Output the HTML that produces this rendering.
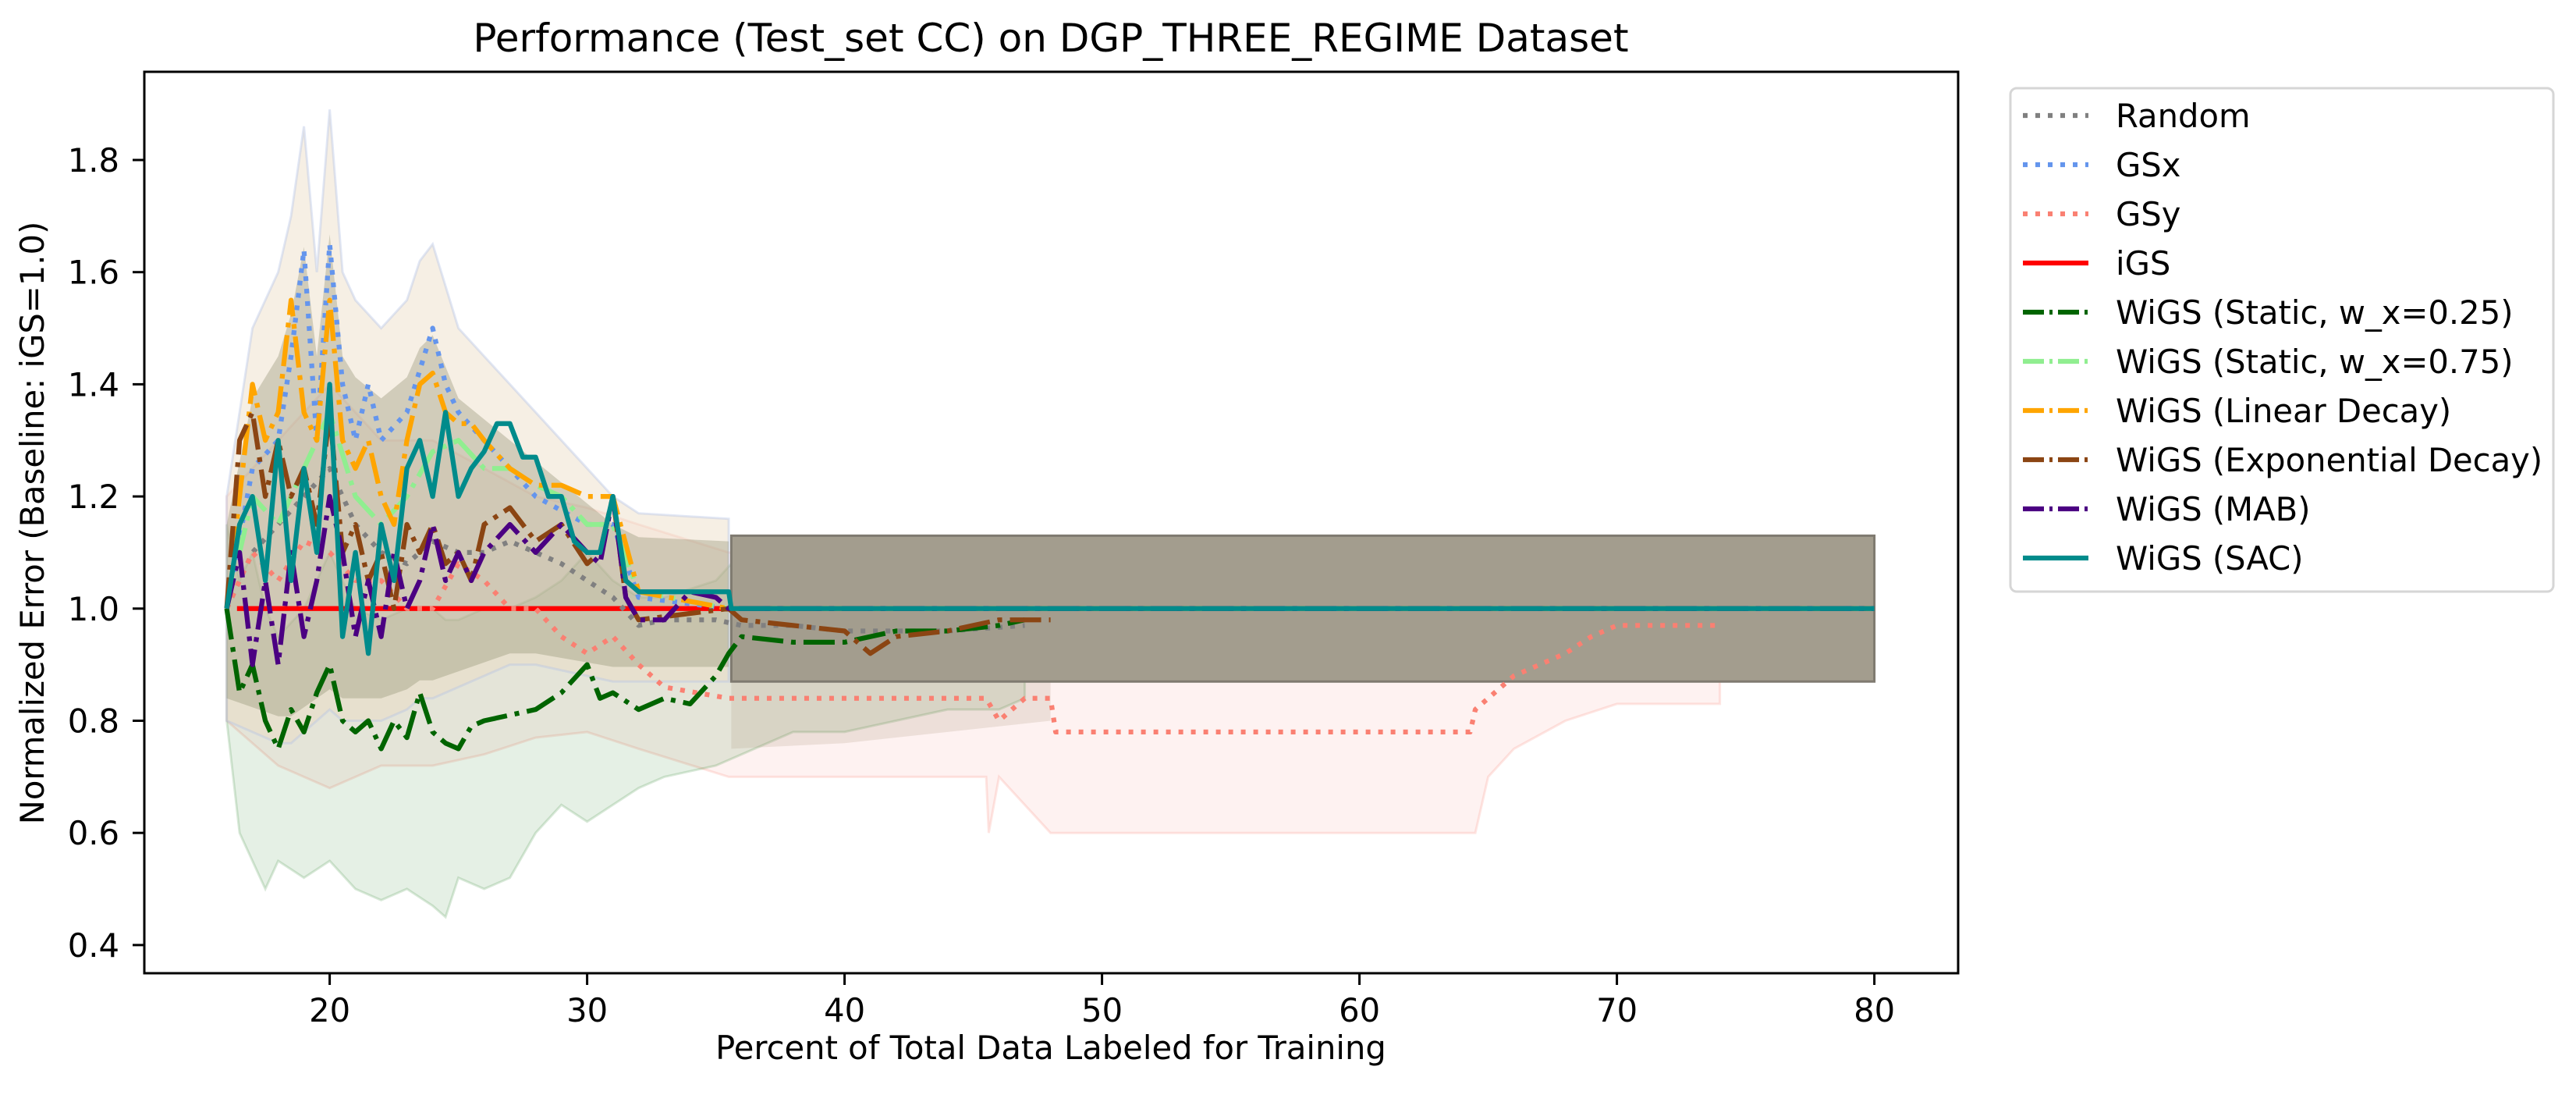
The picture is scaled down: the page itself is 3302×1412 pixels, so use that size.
<!DOCTYPE html>
<html><head><meta charset="utf-8"><style>
html,body{margin:0;padding:0;background:#fff;}
svg text{font-family:"DejaVu Sans","Liberation Sans",sans-serif;}
</style></head><body>
<svg id="chart" width="3302" height="1407" viewBox="0 0 3302 1407" xmlns="http://www.w3.org/2000/svg">
<rect x="0" y="0" width="3302" height="1407" fill="#fff"/>
<g id="bands"></g>
<g id="lines"></g>
<rect x="185" y="92" width="2325" height="1155" fill="none" stroke="#000" stroke-width="3"/>
<g id="xticks"></g>
<g id="yticks"></g>
<text x="1347" y="66" font-size="50" text-anchor="middle">Performance (Test_set CC) on DGP_THREE_REGIME Dataset</text>
<text x="1347" y="1357" font-size="41.7" text-anchor="middle">Percent of Total Data Labeled for Training</text>
<text transform="translate(56,670) rotate(-90)" font-size="41.7" text-anchor="middle">Normalized Error (Baseline: iGS=1.0)</text>
<g id="legend">
<rect x="2577" y="113" width="696" height="645" rx="8" fill="#fff" fill-opacity="0.8" stroke="#d6d6d6" stroke-width="3"/>
</g>
</svg>
<script>
// ---- data ----
const xTicks = [20, 30, 40, 50, 60, 70, 80];
const yTicks = [0.4, 0.6, 0.8, 1.0, 1.2, 1.4, 1.6, 1.8];

const igsX = [16.4, 80];
const igsY = [1.0, 1.0];

const randomX = [16, 17, 18, 19, 20, 21, 22, 23, 24, 25, 26, 27, 28, 29, 30, 31, 32, 33, 35, 36, 38, 40, 42, 44, 47];
const randomY = [1.0, 1.1, 1.15, 1.2, 1.25, 1.15, 1.1, 1.08, 1.12, 1.1, 1.1, 1.12, 1.1, 1.08, 1.05, 1.02, 0.97, 0.98, 0.98, 0.97, 0.97, 0.96, 0.96, 0.96, 0.97];

const gsxX = [16, 17, 18, 18.5, 19, 19.5, 20, 20.5, 21, 21.5, 22, 23, 24, 24.5, 25, 26, 27, 28, 30, 31, 32, 35.5, 80];
const gsxY = [1.0, 1.25, 1.3, 1.45, 1.64, 1.3, 1.65, 1.4, 1.3, 1.4, 1.3, 1.35, 1.5, 1.4, 1.35, 1.3, 1.25, 1.2, 1.15, 1.15, 1.02, 1.0, 1.0];

const gsyX = [16, 17, 18, 19, 20, 21, 22, 23, 24, 25, 26, 27, 28, 29, 30, 31, 32, 33, 35.5, 45.5, 46, 47, 48, 48.2, 64.3, 64.5, 65.5, 66, 67, 68, 69, 70, 74];
const gsyY = [1.0, 1.1, 1.05, 1.12, 1.1, 1.05, 1.05, 1.0, 1.0, 1.08, 1.05, 1.0, 1.0, 0.95, 0.92, 0.95, 0.9, 0.86, 0.84, 0.84, 0.8, 0.84, 0.84, 0.78, 0.78, 0.82, 0.86, 0.88, 0.9, 0.92, 0.95, 0.97, 0.97];

const st25X = [16, 16.5, 17, 17.5, 18, 18.5, 19, 19.5, 20, 20.5, 21, 21.5, 22, 22.5, 23, 23.5, 24, 24.5, 25, 25.5, 26, 27, 28, 29, 30, 30.5, 31, 32, 33, 34, 35, 35.5, 36, 38, 40, 42, 44, 46, 47];
const st25Y = [1.0, 0.85, 0.9, 0.8, 0.75, 0.82, 0.78, 0.85, 0.9, 0.8, 0.78, 0.8, 0.75, 0.8, 0.77, 0.85, 0.78, 0.76, 0.75, 0.79, 0.8, 0.81, 0.82, 0.85, 0.9, 0.84, 0.85, 0.82, 0.84, 0.83, 0.88, 0.92, 0.95, 0.94, 0.94, 0.96, 0.96, 0.97, 0.98];

const st75X = [16, 17, 18, 19, 20, 21, 22, 23, 24, 25, 26, 27, 28, 29, 30, 31, 32, 35.5, 80];
const st75Y = [1.0, 1.2, 1.15, 1.25, 1.35, 1.2, 1.15, 1.2, 1.28, 1.3, 1.25, 1.25, 1.22, 1.2, 1.15, 1.15, 1.03, 1.0, 1.0];

const linX = [16, 16.5, 17, 17.5, 18, 18.5, 19, 19.5, 20, 20.5, 21, 21.5, 22, 22.5, 23, 23.5, 24, 24.5, 25, 25.5, 26, 27, 28, 29, 30, 31, 32, 35.5, 80];
const linY = [1.0, 1.2, 1.4, 1.3, 1.35, 1.55, 1.35, 1.3, 1.55, 1.3, 1.25, 1.3, 1.2, 1.15, 1.3, 1.4, 1.42, 1.35, 1.33, 1.33, 1.3, 1.25, 1.22, 1.22, 1.2, 1.2, 1.03, 1.0, 1.0];

const expX = [16, 16.5, 17, 17.5, 18, 18.5, 19, 19.5, 20, 20.5, 21, 21.5, 22, 22.5, 23, 23.5, 24, 24.5, 25, 25.5, 26, 27, 28, 29, 30, 30.5, 31, 31.5, 32, 35.5, 36, 38, 40, 41, 42, 44, 46, 48];
const expY = [1.0, 1.3, 1.35, 1.2, 1.3, 1.2, 1.25, 1.15, 1.35, 1.1, 1.15, 1.05, 1.1, 1.0, 1.15, 1.1, 1.15, 1.08, 1.1, 1.05, 1.15, 1.18, 1.12, 1.15, 1.08, 1.1, 1.2, 1.02, 0.98, 1.0, 0.98, 0.97, 0.96, 0.92, 0.95, 0.96, 0.98, 0.98];

const mabX = [16, 16.5, 17, 17.5, 18, 18.5, 19, 19.5, 20, 20.5, 21, 21.5, 22, 22.5, 23, 23.5, 24, 24.5, 25, 25.5, 26, 27, 28, 29, 30, 30.5, 31, 31.5, 32, 33, 34, 35, 35.5, 80];
const mabY = [1.0, 1.1, 0.9, 1.05, 0.9, 1.1, 0.95, 1.05, 1.2, 1.1, 0.95, 1.05, 0.95, 1.1, 1.0, 1.05, 1.15, 1.05, 1.1, 1.05, 1.1, 1.15, 1.1, 1.15, 1.1, 1.08, 1.2, 1.02, 0.98, 0.98, 1.03, 1.02, 1.0, 1.0];

const sacX = [16, 16.5, 17, 17.5, 18, 18.5, 19, 19.5, 20, 20.5, 21, 21.5, 22, 22.5, 23, 23.5, 24, 24.5, 25, 25.5, 26, 26.5, 27, 27.5, 28, 28.5, 29, 29.5, 30, 30.5, 31, 31.5, 32, 35.5, 35.6, 80];
const sacY = [1.0, 1.15, 1.2, 1.05, 1.3, 1.05, 1.25, 1.1, 1.4, 0.95, 1.1, 0.92, 1.15, 1.05, 1.25, 1.3, 1.2, 1.35, 1.2, 1.25, 1.28, 1.33, 1.33, 1.27, 1.27, 1.2, 1.2, 1.12, 1.1, 1.1, 1.2, 1.05, 1.03, 1.03, 1.0, 1.0];

// bands
const spikeX = [16, 17, 18, 18.5, 19, 19.5, 20, 20.5, 21, 22, 23, 23.5, 24, 25, 26, 27, 28, 30, 31, 32, 35.5];
const spikeUp = [1.2, 1.5, 1.6, 1.7, 1.86, 1.6, 1.89, 1.6, 1.55, 1.5, 1.55, 1.62, 1.65, 1.5, 1.45, 1.4, 1.35, 1.25, 1.2, 1.17, 1.16];
const spikeLo = [0.8, 0.78, 0.76, 0.76, 0.78, 0.8, 0.82, 0.8, 0.8, 0.8, 0.82, 0.84, 0.84, 0.86, 0.88, 0.9, 0.9, 0.88, 0.87, 0.87, 0.87];

const mainX = [35.6, 80];
const mainUp = [1.13, 1.13];
const mainLo = [0.87, 0.87];

const tanX = [35.6, 40, 44, 48];
const tanUp = [0.87, 0.87, 0.87, 0.87];
const tanLo = [0.75, 0.76, 0.78, 0.8];

const greenX = [16, 16.5, 17, 17.5, 18, 19, 20, 21, 22, 23, 24, 24.5, 25, 26, 27, 28, 29, 30, 31, 32, 33, 35, 36, 38, 40, 42, 44, 46, 47];
const greenUp = [1.15, 1.05, 1.1, 1.0, 0.95, 1.0, 1.1, 1.0, 0.98, 1.0, 1.0, 0.98, 0.98, 1.0, 1.0, 1.02, 1.05, 1.1, 1.05, 1.02, 1.02, 1.05, 1.1, 1.1, 1.1, 1.12, 1.12, 1.12, 1.12];
const greenLo = [0.8, 0.6, 0.55, 0.5, 0.55, 0.52, 0.55, 0.5, 0.48, 0.5, 0.47, 0.45, 0.52, 0.5, 0.52, 0.6, 0.65, 0.62, 0.65, 0.68, 0.7, 0.72, 0.74, 0.78, 0.78, 0.8, 0.82, 0.82, 0.84];

const pinkX = [16, 18, 20, 22, 24, 26, 28, 30, 32, 35.5, 45.5, 45.6, 46, 48, 64.5, 65, 66, 68, 70, 74];
const pinkUp = [1.2, 1.3, 1.4, 1.3, 1.3, 1.25, 1.2, 1.18, 1.15, 1.1, 1.1, 1.1, 1.1, 1.1, 1.1, 1.1, 1.1, 1.1, 1.1, 1.1];
const pinkLo = [0.8, 0.72, 0.68, 0.72, 0.72, 0.74, 0.77, 0.78, 0.75, 0.7, 0.7, 0.6, 0.7, 0.6, 0.6, 0.7, 0.75, 0.8, 0.83, 0.83];

// ---- axes ----
const NS = 'http://www.w3.org/2000/svg';
function xs(p){ return 422.6 + (p - 20) * 33.0; }
function ys(v){ return 779.8 - (v - 1) * 718.5; }
function mk(tag, attrs, parent){
  const e = document.createElementNS(NS, tag);
  for (const k in attrs) e.setAttribute(k, attrs[k]);
  parent.appendChild(e);
  return e;
}
function linePath(X, Y){
  return X.map((x, i) => (i ? 'L' : 'M') + xs(x).toFixed(1) + ' ' + ys(Y[i]).toFixed(1)).join(' ');
}
function bandPath(X, U, L){
  let d = X.map((x, i) => (i ? 'L' : 'M') + xs(x).toFixed(1) + ' ' + ys(U[i]).toFixed(1)).join(' ');
  for (let i = X.length - 1; i >= 0; i--) d += ' L' + xs(X[i]).toFixed(1) + ' ' + ys(L[i]).toFixed(1);
  return d + ' Z';
}

const bandsG = document.getElementById('bands');
const b1 = mk('path', {d: bandPath(pinkX, pinkUp, pinkLo), fill: 'rgba(250,128,114,0.1)', stroke: 'rgba(250,128,114,0.2)', 'stroke-width': 3}, bandsG);


const b2 = mk('path', {d: bandPath(greenX, greenUp, greenLo), fill: 'rgba(0,110,0,0.1)', stroke: 'rgba(0,110,0,0.15)', 'stroke-width': 3}, bandsG);


const b6 = mk('path', {d: bandPath(tanX, tanUp, tanLo), fill: 'rgba(160,140,110,0.18)', stroke: 'none'}, bandsG);


const b3 = mk('path', {d: bandPath(spikeX, spikeUp, spikeLo), fill: 'rgba(235,220,195,0.45)', stroke: 'rgba(180,195,230,0.4)', 'stroke-width': 3}, bandsG);


const b4 = mk('path', {d: bandPath(spikeX, spikeUp.map(v => 1 + (v - 1) * 0.75), spikeLo.map(v => 1 - (1 - v) * 0.8)), fill: 'rgba(140,140,110,0.35)', stroke: 'none'}, bandsG);


const b5 = mk('path', {d: bandPath(mainX, mainUp, mainLo), fill: '#a39d8e', stroke: '#7f7a70', 'stroke-width': 3}, bandsG);



const series = [
  {name: 'Random', X: randomX, Y: randomY, color: '#808080', dash: '6 10', key: 'random'},
  {name: 'GSx', X: gsxX, Y: gsxY, color: '#6495ed', dash: '6 10', key: 'gsx'},
  {name: 'GSy', X: gsyX, Y: gsyY, color: '#fa8072', dash: '6 10', key: 'gsy'},
  {name: 'iGS', X: igsX, Y: igsY, color: '#ff0000', dash: '', key: 'igs'},
  {name: 'WiGS (Static, w_x=0.25)', X: st25X, Y: st25Y, color: '#006400', dash: '40 10 6 10', key: 'wigs-static-025'},
  {name: 'WiGS (Static, w_x=0.75)', X: st75X, Y: st75Y, color: '#90ee90', dash: '40 10 6 10', key: 'wigs-static-075'},
  {name: 'WiGS (Linear Decay)', X: linX, Y: linY, color: '#ffa500', dash: '40 10 6 10', key: 'wigs-linear'},
  {name: 'WiGS (Exponential Decay)', X: expX, Y: expY, color: '#8b4513', dash: '40 10 6 10', key: 'wigs-exp'},
  {name: 'WiGS (MAB)', X: mabX, Y: mabY, color: '#4b0082', dash: '40 10 6 10', key: 'wigs-mab'},
  {name: 'WiGS (SAC)', X: sacX, Y: sacY, color: '#008b8b', dash: '', key: 'wigs-sac'}
];
const linesG = document.getElementById('lines');
const drawOrder = [3, 0, 1, 2, 4, 5, 6, 7, 8, 9];
drawOrder.forEach(i => {
  const s = series[i];
  const attrs = {d: linePath(s.X, s.Y), fill: 'none', stroke: s.color, 'stroke-width': 6.25, 'stroke-linejoin': 'round'};
  if (s.dash) attrs['stroke-dasharray'] = s.dash;
  const p = mk('path', attrs, linesG);
  
  
});

// ticks
const xg = document.getElementById('xticks');
xTicks.forEach(t => {
  const x = xs(t);
  const l = mk('line', {x1: x, x2: x, y1: 1247, y2: 1262, stroke: '#000', 'stroke-width': 3}, xg);
  
  
  const tx = mk('text', {x: x, y: 1309, 'font-size': 41.7, 'text-anchor': 'middle'}, xg);
  tx.textContent = String(t);
  
  
});
const yg = document.getElementById('yticks');
yTicks.forEach(t => {
  const y = ys(t);
  const l = mk('line', {x1: 170, x2: 185, y1: y, y2: y, stroke: '#000', 'stroke-width': 3}, yg);
  
  
  const tx = mk('text', {x: 153, y: y + 15, 'font-size': 41.7, 'text-anchor': 'end'}, yg);
  tx.textContent = t.toFixed(1);
  
  
});

// legend
const lg = document.getElementById('legend');
series.forEach((s, i) => {
  const y = 148 + i * 63;
  const g = mk('g', {}, lg);
  
  
  const attrs = {x1: 2593, x2: 2677, y1: y, y2: y, stroke: s.color, 'stroke-width': 6.25};
  if (s.dash) attrs['stroke-dasharray'] = s.dash === '6 10' ? '6 10' : '27 7 4 7';
  mk('line', attrs, g);
  const tx = mk('text', {x: 2712, y: y + 15, 'font-size': 41.7}, g);
  tx.textContent = s.name;
});
</script>
</body></html>
